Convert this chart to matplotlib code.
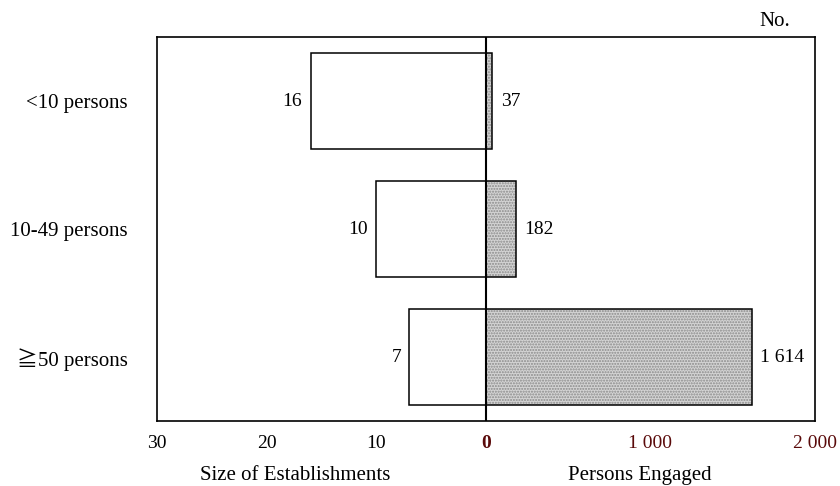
import matplotlib
matplotlib.use("Agg")
import matplotlib.pyplot as plt

categories = ["<10 persons", "10-49 persons", "\u226750 persons"]
establishments = [16, 10, 7]
persons = [37, 182, 1614]
est_ticks = [30, 20, 10, 0]
per_ticks = [1000, 2000]
per_tick_labels = ["1 000", "2 000"]
value_labels_per = ["37", "182", "1 614"]

plt.rcParams['font.family'] = ['Liberation Serif', 'DejaVu Serif', 'Noto Sans CJK JP', 'DejaVu Sans']

SCALE = 2000 / 30.0
fig = plt.figure(figsize=(8.4, 4.86), dpi=100)
ax = fig.add_axes([157/840, 1-421/486, (815-157)/840, (421-37)/486])

ypos = list(range(len(categories)))
h = 0.75
ax.barh(ypos, [-e for e in establishments], height=h, color='white', edgecolor='black', linewidth=1.1, zorder=2)
pv = [p / SCALE for p in persons]
ax.barh(ypos, pv, height=h, color='#d4d4d4', edgecolor='#8a8a8a', hatch='......', linewidth=0, zorder=2)
ax.barh(ypos, pv, height=h, fill=False, edgecolor='black', linewidth=1.1, zorder=3)
ax.axvline(0, color='black', linewidth=1.5, zorder=4)

for y, e in zip(ypos, establishments):
    ax.text(-e - 0.75, y, str(e), ha='right', va='center', fontsize=14)
for y, p, lab in zip(ypos, pv, value_labels_per):
    ax.text(p + 0.8, y, lab, ha='left', va='center', fontsize=14)

ax.set_xlim(-30, 30)
ax.set_ylim(2.5, -0.5)
ticks = [-t for t in est_ticks] + [t / SCALE for t in per_ticks]
labels = [str(t) for t in est_ticks] + per_tick_labels
ax.set_xticks(ticks)
ax.set_xticklabels(labels, fontsize=14)
for lbl, t in zip(ax.get_xticklabels(), ticks):
    if t >= 0:
        lbl.set_color('#5a0a0a')
    if t == 0:
        lbl.set_fontweight('bold')
ax.tick_params(axis='x', length=0, pad=10)
ax.set_yticks(ypos)
ax.set_yticklabels(categories, fontsize=15)
ax.tick_params(axis='y', length=0, pad=21)
for s in ax.spines.values():
    s.set_linewidth(1.2)

fig.text(295/840, 1-475/486, "Size of Establishments", ha='center', va='center', fontsize=15)
fig.text(640/840, 1-475/486, "Persons Engaged", ha='center', va='center', fontsize=15)
fig.text(775/840, 1-21/486, "No.", ha='center', va='center', fontsize=15)

fig.savefig("out.png", dpi=100)
